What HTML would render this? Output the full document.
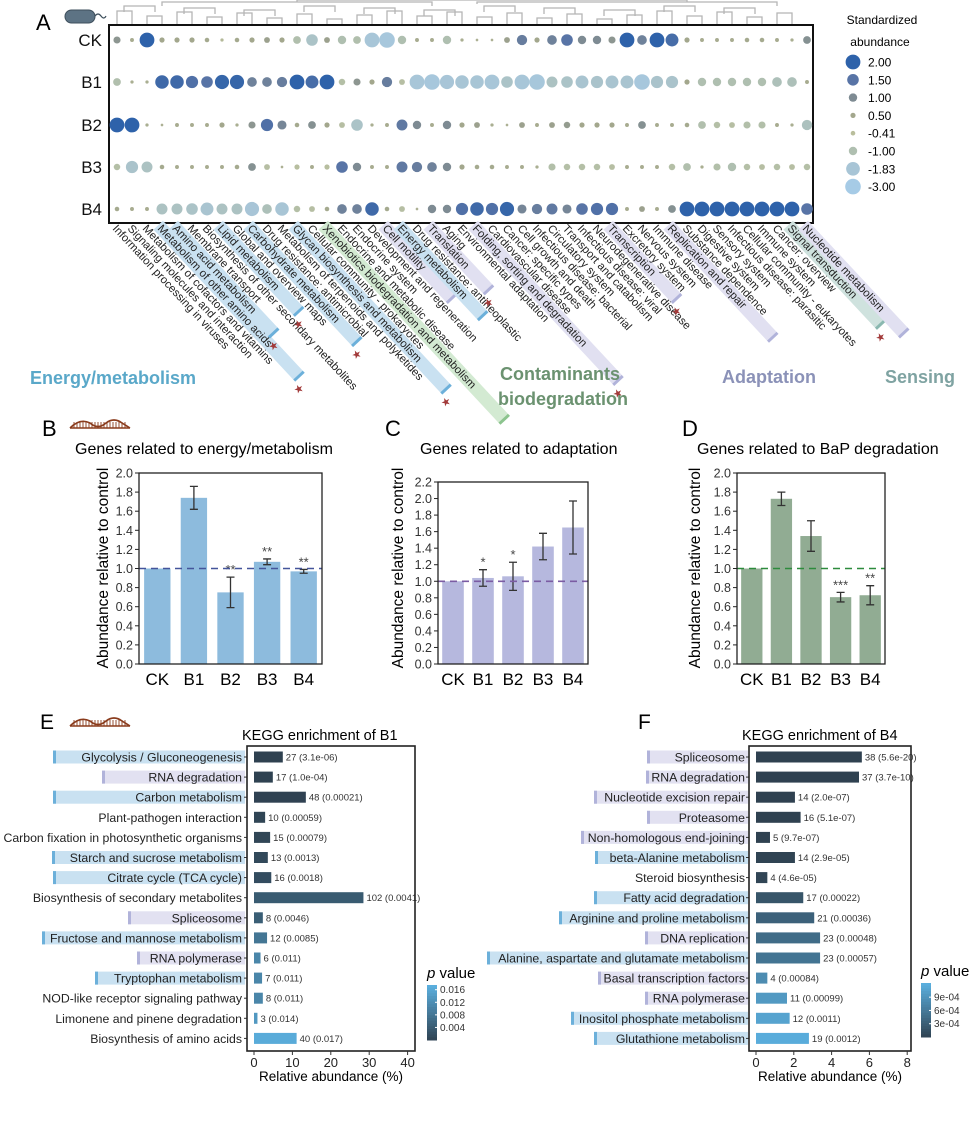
<!DOCTYPE html>
<html><head><meta charset="utf-8">
<style>
html,body{margin:0;padding:0;background:#fff;}
svg{display:block;font-family:"Liberation Sans",Arial,sans-serif;}
</style></head>
<body>
<svg id="fig" width="975" height="1130" viewBox="0 0 975 1130" xmlns="http://www.w3.org/2000/svg">
<g id="gA"></g>
<g id="gB"></g>
<g id="gC"></g>
<g id="gD"></g>
<g id="gE"></g>
<g id="gF"></g>
</svg>
<script>
// ---------- Panel A data ----------
const aRows = ["CK","B1","B2","B3","B4"];
const aCols = ["Information processing in viruses","Signaling molecules and interaction","Metabolism of cofactors and vitamins","Metabolism of other amino acids","Amino acid metabolism","Membrane transport","Biosynthesis of other secondary metabolites","Lipid metabolism","Global and overview maps","Carbohydrate metabolism","Drug resistance: antimicrobial","Metabolism of terpenoids and polyketides","Glycan biosynthesis and metabolism","Cellular community - prokaryotes","Xenobiotics biodegradation and metabolism","Endocrine and metabolic disease","Endocrine system","Development and regeneration","Cell motility","Energy metabolism","Drug resistance: antineoplastic","Translation","Aging","Environmental adaptation","Folding, sorting and degradation","Cardiovascular disease","Cancer: specific types","Cell growth and death","Infectious disease: bacterial","Circulatory system","Transport and catabolism","Infectious disease: viral","Neurodegenerative disease","Transcription","Excretory system","Nervous system","Immune disease","Replication and repair","Substance dependence","Digestive system","Sensory system","Infectious disease: parasitic","Cellular community - eukaryotes","Immune system","Cancer: overview","Signal transduction","Nucleotide metabolism"];
const aHighlight = {3:"b",4:"b",7:"b",9:"b",12:"b",19:"b",14:"g",18:"p",21:"p",24:"p",33:"p",37:"p",46:"p",45:"t"};
const aStars = [3,4,7,9,12,21,24,33,45];
const aCK = [0.8,0.3,2,0.5,0.5,0.5,0.4,-0.2,0.4,0.5,0.6,0.5,-0.9,-1.5,0.6,-1.0,-0.9,-2,-2.3,-1,0.3,0.3,-1,0.2,0.1,0.1,0.6,1.3,0.5,1.2,1.5,1.0,1.0,0.8,2,1.2,2,1.7,0.5,0.3,0.3,0.3,0.4,0.4,0.3,0.2,0.9];
const aB1 = [-0.9,0.2,0.2,1.8,1.8,1.6,1.5,1.9,1.9,1.2,1.2,1.3,2,1.7,2,-0.7,0.8,0.5,1.3,-0.6,-2,-2.3,-1.9,-1.8,-1.8,-2,-1.5,-2,-2.2,-1.4,-1.5,-1.7,-1.6,-1.7,-1.7,-2.3,-1.6,-1.6,0.5,-1.0,-1.0,-1.0,-1.0,-1.0,-1.2,-1.2,0.3];
const aB2 = [2,2,0.2,0.1,0.3,0.3,0.3,0.5,0.2,0.8,1.6,1.1,0.4,0.9,0.5,-0.6,-1.5,0.2,0.3,1.4,1.0,0.3,1.0,0.5,0.6,0.2,0.1,0.6,0.3,0.6,0.7,0.5,0.5,0.5,0.3,0.9,0.3,0.3,0.4,-0.9,-0.7,-0.6,-0.8,-0.8,0.3,0.2,-1.3];
const aB3 = [-0.7,-1.6,-1.4,0.4,0.3,0.3,0.3,0.3,0.4,0.9,-0.6,0.1,-0.5,0.3,-0.5,1.5,1.0,0.3,0.3,1.4,1.3,1.2,1.0,0.5,0.4,0.4,0.3,0.3,0.2,-0.8,-0.7,-0.7,-0.7,-0.6,0.3,0.3,0.3,-0.7,-0.9,0.2,-0.8,-1.0,-0.7,-0.6,-0.7,-0.6,-0.7];
const aB4 = [0.4,0.3,0.3,-1.4,-1.4,-1.5,-1.7,-1.4,-1.4,-1.9,-1.2,-1.8,-0.7,-0.6,0.4,1.2,1.2,1.8,0.4,-0.6,0.1,1.0,1.0,1.6,1.8,1.6,1.9,1.1,1.3,1.4,1.1,1.5,1.6,1.6,0.3,0.6,0.3,0.9,2,2,2,2,2,2,2,2,1.5];
const aLegend = [2.00,1.50,1.00,0.50,-0.41,-1.00,-1.83,-3.00];

// ---------- Panels B-D ----------
const bcdCats = ["CK","B1","B2","B3","B4"];
const bVals = [1.0,1.74,0.75,1.07,0.97];
const bErr = [0,0.12,0.16,0.03,0.02];
const bSig = ["","","**","**","**"];
const cVals = [1.0,1.04,1.06,1.42,1.65];
const cErr = [0,0.1,0.17,0.16,0.32];
const cSig = ["","*","*","",""];
const dVals = [1.0,1.73,1.34,0.70,0.72];
const dErr = [0,0.07,0.16,0.05,0.1];
const dSig = ["","","","***","**"];

// ---------- Panel E ----------
const eTerms = ["Glycolysis / Gluconeogenesis","RNA degradation","Carbon metabolism","Plant-pathogen interaction","Carbon fixation in photosynthetic organisms","Starch and sucrose metabolism","Citrate cycle (TCA cycle)","Biosynthesis of secondary metabolites","Spliceosome","Fructose and mannose metabolism","RNA polymerase","Tryptophan metabolism","NOD-like receptor signaling pathway","Limonene and pinene degradation","Biosynthesis of amino acids"];
const eAbund = [7.5,4.9,13.5,2.9,4.2,3.6,4.5,28.5,2.3,3.4,1.7,2.1,2.3,0.9,11.1];
const eCounts = ["27","17","48","10","15","13","16","102","8","12","6","7","8","3","40"];
const ePText = ["3.1e-06","1.0e-04","0.00021","0.00059","0.00079","0.0013","0.0018","0.0041","0.0046","0.0085","0.011","0.011","0.011","0.014","0.017"];
const eP = [3.1e-6,1e-4,0.00021,0.00059,0.00079,0.0013,0.0018,0.0041,0.0046,0.0085,0.011,0.011,0.011,0.014,0.017];
const eCat = ["b","p","b","","","b","b","","p","b","p","b","","",""];
const eHl = [53,102,53,0,0,52,53,0,128,42,137,95,0,0,0];
const eTicks = [0,10,20,30,40];
const eCbTicks = [0.004,0.008,0.012,0.016];

// ---------- Panel F ----------
const fTerms = ["Spliceosome","RNA degradation","Nucleotide excision repair","Proteasome","Non-homologous end-joining","beta-Alanine metabolism","Steroid biosynthesis","Fatty acid degradation","Arginine and proline metabolism","DNA replication","Alanine, aspartate and glutamate metabolism","Basal transcription factors","RNA polymerase","Inositol phosphate metabolism","Glutathione metabolism"];
const fAbund = [5.6,5.45,2.06,2.36,0.74,2.06,0.6,2.5,3.08,3.39,3.39,0.6,1.64,1.78,2.8];
const fCounts = ["38","37","14","16","5","14","4","17","21","23","23","4","11","12","19"];
const fPText = ["5.6e-20","3.7e-10","2.0e-07","5.1e-07","9.7e-07","2.9e-05","4.6e-05","0.00022","0.00036","0.00048","0.00057","0.00084","0.00099","0.0011","0.0012"];
const fP = [5.6e-20,3.7e-10,2e-7,5.1e-7,9.7e-7,2.9e-5,4.6e-5,0.00022,0.00036,0.00048,0.00057,0.00084,0.00099,0.0011,0.0012];
const fCat = ["p","p","p","p","p","b","","b","b","p","b","p","p","b","b"];
const fHl = [647,646,594,647,581,595,0,594,559,645,487,598,645,571,594];
const fTicks = [0,2,4,6,8];
const fCbTicks = [3e-4,6e-4,9e-4];

const NS="http://www.w3.org/2000/svg";
function mk(parent,tag,attrs,text){const e=document.createElementNS(NS,tag);for(const k in attrs)e.setAttribute(k,attrs[k]);if(text!==undefined)e.textContent=text;parent.appendChild(e);return e;}
function hex(c){return [parseInt(c.slice(1,3),16),parseInt(c.slice(3,5),16),parseInt(c.slice(5,7),16)];}
function lerpCol(a,b,t){const A=hex(a),B=hex(b);return "rgb("+A.map((v,i)=>Math.round(v+(B[i]-v)*t)).join(",")+")";}
const cStops=[[-3,"#a6cbe6"],[-1.83,"#a8c5d6"],[-1,"#afbfb0"],[-0.4,"#b9be9c"],[0.5,"#a3a78d"],[1,"#7e8b93"],[1.5,"#5874a6"],[2,"#2e62aa"]];
function dotCol(v){if(v<=cStops[0][0])return cStops[0][1];for(let i=1;i<cStops.length;i++){if(v<=cStops[i][0]){const t=(v-cStops[i-1][0])/(cStops[i][0]-cStops[i-1][0]);return lerpCol(cStops[i-1][1],cStops[i][1],t);}}return cStops[cStops.length-1][1];}
function dotR(v){return Math.min(7.8,1.0+3.2*Math.abs(v));}

// ================= Panel A =================
(function(){
const g=document.getElementById("gA");
const x0=117, dx=15, rowY=[40,82,125,167,209];
const colX=i=>x0+i*dx;
const t=mk(g,"text",{x:36,y:30,"font-size":22},"A");


const ic=mk(g,"g",{});


mk(ic,"rect",{x:65,y:10,width:30,height:13,rx:6.5,fill:"#5d7384",stroke:"#3e4f5c","stroke-width":1});
mk(ic,"path",{d:"M95 16 q3 -4 6 0 t5 0",fill:"none",stroke:"#3e4f5c","stroke-width":1.2});
const dg=mk(g,"g",{stroke:"#b5b5b5","stroke-width":1.3,fill:"none"});


for(let i=0;i<aCols.length-1;i+=2){
  const a=colX(i),b=colX(i+1);const h=11+((i*7)%9);
  mk(dg,"path",{d:`M${a} 24 V${h} H${b} V24`});
}
for(let i=0;i<aCols.length-3;i+=4){
  const a=colX(i)+7,b=colX(i+3)-7;const h=6+((i*5)%6);
  mk(dg,"path",{d:`M${a} ${h+6} V${h} H${b} V${h+6}`});
}
mk(dg,"path",{d:`M${colX(3)} 6 V2 H${colX(21)} V6 M${colX(12)} 2 V0 H${colX(38)} V2 M${colX(24)} 4 V2 H${colX(44)} V6`});
const box=mk(g,"rect",{x:109,y:25,width:704,height:198,fill:"none",stroke:"#111","stroke-width":2});


const rowsData=[aCK,aB1,aB2,aB3,aB4];
aRows.forEach((r,ri)=>{
  const l=mk(g,"text",{x:102,y:rowY[ri]+6,"font-size":17,"text-anchor":"end",fill:"#111"},r);
  
  
  rowsData[ri].forEach((v,ci)=>{
    const c=mk(g,"circle",{cx:colX(ci),cy:rowY[ri],r:dotR(v).toFixed(2),fill:dotCol(v)});
    
    
  });
});
const hlCol={b:["#c9e1f1","#6cb0da"],p:["#e1e0f1","#b1b3da"],g:["#d3ead2","#8cc48e"],t:["#cfe2de","#8ab8b0"]};
aCols.forEach((name,ci)=>{
  const gx=mk(g,"g",{transform:`translate(${colX(ci)-5},${229}) rotate(47)`});
  
  
  const len=name.length*5.9;
  const hl=aHighlight[ci];
  if(hl){
    const ext=len+22;
    mk(gx,"rect",{x:-2,y:-10,width:ext,height:13,fill:hlCol[hl][0]});
    mk(gx,"rect",{x:ext-2,y:-10,width:3,height:13,fill:hlCol[hl][1]});
    if(aStars.includes(ci)){const s=mk(gx,"text",{x:ext+4,y:9,"font-size":11,fill:"#a23a3a"},"★");
      
      }
  }
  const tx=mk(gx,"text",{x:0,y:0,"font-size":11.3,fill:"#222"},name);
  
  
});
const gt=[["Energy/metabolism",30,384,"#5aa8c9"],["Contaminants",500,380,"#6b9270"],["biodegradation",498,405,"#6b9270"],["Adaptation",722,383,"#8b92b8"],["Sensing",885,383,"#7fa3a2"]];
gt.forEach(d=>{const e=mk(g,"text",{x:d[1],y:d[2],"font-size":18,"font-weight":"bold",fill:d[3]},d[0]);
  
  });
const lg=mk(g,"g",{});


mk(lg,"text",{x:882,y:24,"font-size":12,"text-anchor":"middle"},"Standardized");
mk(lg,"text",{x:880,y:46,"font-size":12,"text-anchor":"middle"},"abundance");
aLegend.forEach((v,i)=>{
  const y=62+i*17.8;
  const c=mk(lg,"circle",{cx:853,cy:y,r:dotR(v).toFixed(2),fill:dotCol(v)});
  
  
  const t=mk(lg,"text",{x:868,y:y+4.5,"font-size":12},v.toFixed(2));
  
  
});
})();

// ================= Panels B-D =================
function dna(g,x,y){
  const d=mk(g,"g",{stroke:"#8a3b1c","stroke-width":1.6,fill:"none"});
  
  
  mk(d,"path",{d:`M${x} ${y+8} Q${x+10} ${y-2} ${x+20} ${y+3} Q${x+28} ${y+10} ${x+36} ${y+3} Q${x+44} ${y-3} ${x+52} ${y+3} L${x+60} ${y+8}`});
  mk(d,"path",{d:`M${x} ${y+8} L${x+60} ${y+8}`});
  for(let i=4;i<58;i+=3)mk(d,"path",{d:`M${x+i} ${y+2} V${y+8}`,"stroke-width":0.9});
}
function barPanel(id,o){
  const g=document.getElementById(id);
  const L=mk(g,"text",{x:o.lx,y:436,"font-size":22},o.letter);
  
  
  const T=mk(g,"text",{x:o.tx,y:454,"font-size":16},o.title);
  
  
  const y0=664,y1=o.ytop;
  const ys=v=>y0-(v/o.ymax)*(y0-y1);
  const w=(o.x1-o.x0)/5;
  const xs=i=>o.x0+w*(i+0.5);
  for(let v=0;v<=o.ymax+1e-9;v+=0.2){
    const y=ys(v);
    mk(g,"line",{x1:o.x0-4,x2:o.x0,y1:y,y2:y,stroke:"#222"});
    const t=mk(g,"text",{x:o.x0-6,y:y+4.5,"font-size":12.5,"text-anchor":"end",fill:"#333"},v.toFixed(1));
    
    
  }
  o.vals.forEach((v,i)=>{
    const b=mk(g,"rect",{x:xs(i)-w*0.36,y:ys(v),width:w*0.72,height:y0-ys(v),fill:o.color});
    
    
    if(o.err[i]>0){
      const e=mk(g,"path",{d:`M${xs(i)-4} ${ys(v+o.err[i])} H${xs(i)+4} M${xs(i)} ${ys(v+o.err[i])} V${ys(v-o.err[i])} M${xs(i)-4} ${ys(v-o.err[i])} H${xs(i)+4}`,stroke:"#333","stroke-width":1.3,fill:"none"});
      
      
    }
    if(o.sig[i]){
      const s=mk(g,"text",{x:xs(i),y:ys(v+o.err[i])-3,"font-size":13,"text-anchor":"middle",fill:"#444"},o.sig[i]);
      
      
    }
    const c=mk(g,"text",{x:xs(i),y:685,"font-size":17,"text-anchor":"middle"},bcdCats[i]);
    
    
  });
  const dl=mk(g,"line",{x1:o.x0,x2:o.x1,y1:ys(1),y2:ys(1),stroke:o.dash,"stroke-width":1.6,"stroke-dasharray":"7,5"});
  
  
  const fr=mk(g,"rect",{x:o.x0,y:y1,width:o.x1-o.x0,height:y0-y1,fill:"none",stroke:"#222","stroke-width":1.3});
  
  
  const yl=mk(g,"text",{transform:`translate(${o.ylx},568) rotate(-90)`,"font-size":15.5,"text-anchor":"middle"},"Abundance relative to control");
  
  
}
barPanel("gB",{letter:"B",lx:42,tx:75,title:"Genes related to energy/metabolism",x0:139,x1:322,ymax:2.0,ytop:473,vals:bVals,err:bErr,sig:bSig,color:"#8dbbdd",dash:"#44559b",ylx:108});
dna(document.getElementById("gB"),70,420);
barPanel("gC",{letter:"C",lx:385,tx:420,title:"Genes related to adaptation",x0:438,x1:588,ymax:2.2,ytop:482,vals:cVals,err:cErr,sig:cSig,color:"#b6b8de",dash:"#7b5ca3",ylx:403});
barPanel("gD",{letter:"D",lx:682,tx:697,title:"Genes related to BaP degradation",x0:737,x1:885,ymax:2.0,ytop:473,vals:dVals,err:dErr,sig:dSig,color:"#91ac93",dash:"#2d8b3d",ylx:700});

// ================= Panels E,F =================
function pCol(t){return lerpCol("#2f4150","#5aaedd",Math.max(0,Math.min(1,t)));}
function enrich(id,o){
  const g=document.getElementById(id);
  const L=mk(g,"text",{x:o.lx,y:729,"font-size":21},o.letter);
  
  
  const T=mk(g,"text",{x:o.tx,y:740,"font-size":14.5},o.title);
  
  
  const xs=v=>o.ax0+v*o.scale;
  const ys=i=>757+i*20.1;
  const hl={b:["#c9e1f1","#6cb0da"],p:["#e2e1f1","#b1b3da"]};
  o.terms.forEach((t,i)=>{
    const y=ys(i);
    if(o.cat[i]){
      const r=mk(g,"rect",{x:o.hl[i],y:y-6.5,width:o.lblR+3-o.hl[i],height:13,fill:hl[o.cat[i]][0]});
      
      
      mk(g,"rect",{x:o.hl[i],y:y-6.5,width:3,height:13,fill:hl[o.cat[i]][1]});
    }
    const lt=mk(g,"text",{x:o.lblR,y:y+4.5,"font-size":12.3,"text-anchor":"end",fill:"#222"},t);
    
    
    mk(g,"line",{x1:o.bx0-3,x2:o.bx0,y1:y,y2:y,stroke:"#333"});
    const b=mk(g,"rect",{x:o.ax0,y:y-5.5,width:xs(o.ab[i])-o.ax0,height:11,fill:pCol(o.p[i]/o.pmax)});
    
    
    const v=mk(g,"text",{x:xs(o.ab[i])+3,y:y+3.5,"font-size":9.5,fill:"#333"},o.counts[i]+" ("+o.ptext[i]+")");
    
    
  });
  const fr=mk(g,"rect",{x:o.bx0,y:746,width:o.bx1-o.bx0,height:305,fill:"none",stroke:"#222","stroke-width":1.6});
  
  
  o.ticks.forEach(v=>{
    mk(g,"line",{x1:xs(v),x2:xs(v),y1:1051,y2:1055,stroke:"#333"});
    const t=mk(g,"text",{x:xs(v),y:1067,"font-size":13,"text-anchor":"middle",fill:"#222"},String(v));
    
    
  });
  const xl=mk(g,"text",{x:(o.bx0+o.bx1)/2,y:1081,"font-size":13.5,"text-anchor":"middle"},"Relative abundance (%)");
  
  
  const cb=mk(g,"g",{});
  
  
  const pt=mk(cb,"text",{x:o.cbx,y:o.cbTop-7,"font-size":15},"");
  mk(pt,"tspan",{"font-style":"italic"},"p");
  mk(pt,"tspan",{},"\u00a0value");
  for(let k=0;k<20;k++){
    const yA=o.cbTop+(o.cbBot-o.cbTop)*k/20;
    mk(cb,"rect",{x:o.cbx,y:yA,width:10,height:(o.cbBot-o.cbTop)/20+0.5,fill:pCol(1-k/20)});
  }
  o.cbTicks.forEach(v=>{
    const y=o.cbBot-(v/o.pmax)*(o.cbBot-o.cbTop);
    mk(cb,"line",{x1:o.cbx+8,x2:o.cbx+10,y1:y,y2:y,stroke:"#fff"});
    mk(cb,"text",{x:o.cbx+13,y:y+3.5,"font-size":10,fill:"#333"},o.cbFmt(v));
  });
}
enrich("gE",{letter:"E",lx:40,tx:242,title:"KEGG enrichment of B1",terms:eTerms,ab:eAbund,counts:eCounts,ptext:ePText,p:eP,cat:eCat,hl:eHl,ticks:eTicks,ax0:254,scale:3.84,bx0:247,bx1:415,lblR:242,pmax:0.0175,cbx:427,cbTop:985,cbBot:1040,cbTicks:eCbTicks,cbFmt:v=>v.toFixed(3)});
dna(document.getElementById("gE"),70,718);
enrich("gF",{letter:"F",lx:638,tx:742,title:"KEGG enrichment of B4",terms:fTerms,ab:fAbund,counts:fCounts,ptext:fPText,p:fP,cat:fCat,hl:fHl,ticks:fTicks,ax0:756,scale:18.9,bx0:749,bx1:911,lblR:745,pmax:0.00122,cbx:921,cbTop:983,cbBot:1037,cbTicks:fCbTicks,cbFmt:v=>(v*1e4).toFixed(0)+"e-04"});
</script>
</body></html>
